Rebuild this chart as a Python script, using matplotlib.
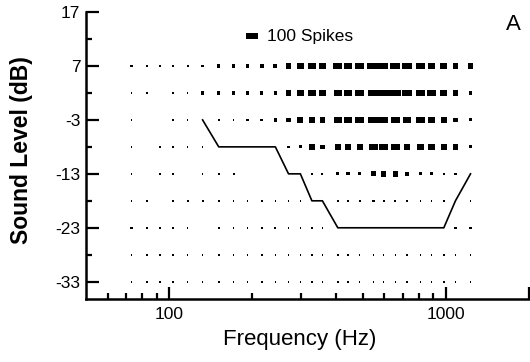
import matplotlib
matplotlib.use("Agg")
import matplotlib.pyplot as plt
from matplotlib.ticker import FixedLocator, NullFormatter
import numpy as np

plt.rcParams['font.family'] = ['Liberation Sans', 'DejaVu Sans']

# stimulus frequencies (Hz)
freqs = [73, 83, 92.5, 103, 116.5, 132, 151, 171, 192, 216, 242, 270, 298, 328,
         358, 407, 443, 488, 548, 596, 657, 724, 810, 888, 984, 1084, 1229]
levels = [7, 2, -3, -8, -13, -18, -23, -28, -33]

# spike counts per level (one list per row, top to bottom)
spikes_7 = [18, 18, 9, 14, 18, 22, 27, 27, 32, 32, 32, 45, 60, 72, 54, 72, 72, 69, 105, 81, 84, 90, 75, 51, 60, 45, 45]
spikes_2 = [9, 9, 0, 14, 14, 27, 27, 27, 27, 27, 27, 45, 54, 63, 60, 63, 63, 69, 90, 84, 99, 84, 69, 69, 60, 45, 30]
spikes_m3 = [8, 0, 0, 9, 14, 0, 18, 9, 18, 22, 27, 36, 50, 54, 45, 66, 72, 72, 90, 78, 75, 60, 75, 54, 45, 39, 24]
spikes_m8 = [8, 0, 8, 8, 8, 8, 0, 0, 0, 0, 0, 22, 27, 45, 36, 54, 54, 51, 72, 72, 78, 51, 54, 54, 45, 45, 24]
spikes_m13 = [8, 0, 8, 8, 0, 8, 14, 18, 0, 0, 0, 0, 0, 14, 18, 27, 27, 27, 42, 45, 45, 39, 27, 27, 18, 18, 0]
spikes_m18 = [8, 14, 0, 8, 18, 18, 8, 8, 8, 8, 14, 14, 14, 0, 0, 18, 18, 18, 18, 18, 18, 18, 14, 14, 8, 0, 8]
spikes_m23 = [18, 14, 8, 8, 8, 0, 14, 8, 8, 8, 18, 8, 8, 8, 14, 0, 0, 0, 0, 0, 0, 0, 0, 0, 0, 18, 18]
spikes_m28 = [14, 8, 6, 14, 14, 14, 6, 8, 8, 8, 14, 8, 8, 8, 6, 8, 8, 8, 8, 6, 8, 8, 8, 8, 8, 8, 8]
spikes_m33 = [8, 6, 8, 14, 8, 6, 8, 6, 8, 14, 14, 8, 8, 8, 8, 8, 8, 8, 8, 8, 8, 8, 8, 8, 14, 8, 8]
rows = [spikes_7, spikes_2, spikes_m3, spikes_m8, spikes_m13, spikes_m18, spikes_m23, spikes_m28, spikes_m33]

# threshold (tuning curve) from 132 Hz upward
thr_freqs = freqs[5:]
thr_levels = [-3, -8, -8, -8, -8, -8, -13, -13, -18, -18, -23, -23, -23, -23, -23,
              -23, -23, -23, -23, -23, -18, -13]

ytick_vals = [17, 7, -3, -13, -23, -33]
ytick_labels = ['17', '7', '-3', '-13', '-23', '-33']

W, H = 530, 362
fig = plt.figure(figsize=(W / 100, H / 100), dpi=100)
ax = fig.add_axes([86 / W, 1 - 299 / H, (529 - 86) / W, (299 - 12) / H])
xlim = (50, 2000)
ylim = (-36.2, 17)
ax.set_xscale('log')
ax.set_xlim(*xlim)
ax.set_ylim(*ylim)

# pixel -> data conversions for the spike bars
ax_w = (529 - 86)
ax_h = (299 - 12)
px_per_decade = ax_w / np.log10(xlim[1] / xlim[0])
db_per_px = (ylim[1] - ylim[0]) / ax_h
px_per_spike = 12 / 100.0
max_h = 6.0
min_w = 1.6


def spike_bars(level, f, counts):
    f = np.asarray(f, float)
    c = np.asarray(counts, float)
    keep = c > 0
    f, c = f[keep], c[keep]
    w = np.maximum(c * px_per_spike, min_w)
    h = np.minimum(w, max_h)
    half = w / 2 / px_per_decade
    left = f * 10 ** (-half)
    width = f * 10 ** half - left
    ax.barh(np.full(len(f), level), width, left=left, height=h * db_per_px,
            color='black', linewidth=0, zorder=2)


for lev, counts in zip(levels, rows):
    spike_bars(lev, freqs, counts)

ax.plot(thr_freqs, thr_levels, color='black', lw=1.2, zorder=3)

# scale bar
spike_bars(12.5, [199], [100])
ax.text(226, 12.5, '100 Spikes', fontsize=12.5, va='center', ha='left')

fig.text(0.968, 0.931, 'A', fontsize=16, ha='center', va='center')

for s in ['top', 'right']:
    ax.spines[s].set_visible(False)
for s in ['left', 'bottom']:
    ax.spines[s].set_linewidth(1.8)

ax.set_yticks(ytick_vals)
ax.set_yticklabels(ytick_labels)
ax.yaxis.set_minor_locator(FixedLocator([12, 2, -8, -18, -28]))
ax.set_xticks([100, 1000, 2000])
ax.set_xticklabels(['100', '1000', ''])
ax.xaxis.set_minor_locator(FixedLocator([60, 70, 80, 90, 200, 300, 400, 500, 600, 700, 800, 900]))
ax.xaxis.set_minor_formatter(NullFormatter())
ax.tick_params(which='major', direction='in', length=9, width=1.6, labelsize=12.5, pad=4)
ax.tick_params(which='minor', direction='in', length=4, width=1.6)
ax.tick_params(axis='x', which='major', pad=6)

ax.set_xlabel('Frequency (Hz)', fontsize=16)
ax.xaxis.set_label_coords(0.482, -0.105)
ax.set_ylabel('Sound Level (dB)', fontsize=16.5, fontweight='bold')
ax.yaxis.set_label_coords(-0.12, 0.52)

plt.savefig('out.png', dpi=100)
